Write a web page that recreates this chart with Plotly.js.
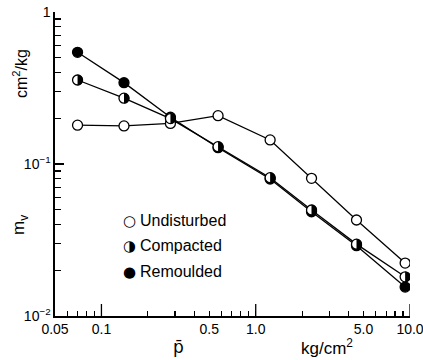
<!DOCTYPE html>
<html><head><meta charset="utf-8">
<script src="https://cdn.plot.ly/plotly-3.0.1.min.js"></script>
<style>html,body{margin:0;padding:0;background:#fff;}#chart{width:423px;height:360px;}</style>
</head><body><div id="chart"></div>
<script>
// data
const pressure    = [0.07, 0.14, 0.28, 0.57, 1.24, 2.3, 4.5, 9.3];
const undisturbed = [0.180, 0.178, 0.185, 0.208, 0.144, 0.0805, 0.0428, 0.0223];
const compacted   = [0.357, 0.271, 0.199, 0.130, 0.0813, 0.0498, 0.0297, 0.0181];
const remoulded   = [0.543, 0.343, 0.203, 0.128, 0.0797, 0.0485, 0.0290, 0.0155];
const seriesNames = ['Undisturbed', 'Compacted', 'Remoulded'];
const legendGlyphs = ['\u25CB', '\u25D1', '\u25CF'];

const xTickVals  = [0.05, 0.1, 0.5, 1, 5, 10];
const xTickText  = ['0.05', '0.1', '0.5', '1.0', '5.0', '10.0'];
const xMinorVals = [0.06, 0.07, 0.08, 0.09, 0.2, 0.3, 0.4, 0.6, 0.7, 0.8, 0.9, 2, 3, 4, 6, 7, 8, 9];
const xLongVals  = [0.1, 1, 10];
const yTickVals  = [0.01, 0.1, 1];
const yTickText  = ['10<sup>\u22122</sup>', '10<sup>\u22121</sup>', '1'];
const yMinorVals = [0.02, 0.03, 0.04, 0.05, 0.06, 0.07, 0.08, 0.09, 0.2, 0.3, 0.4, 0.5, 0.6, 0.7, 0.8, 0.9];

const FONT = 'Liberation Sans, Arial, sans-serif';
const lineStyle = {color: '#000', width: 1.3};

const traces = [
  {x: pressure, y: undisturbed, name: seriesNames[0], mode: 'lines+markers', line: lineStyle,
   marker: {symbol: 'circle', size: 10, color: '#fff', line: {color: '#000', width: 1.3}}},
  {x: pressure, y: remoulded, name: seriesNames[2], mode: 'lines+markers', line: lineStyle,
   marker: {symbol: 'circle', size: 10, color: '#000', line: {color: '#000', width: 1.3}}},
  {x: pressure, y: compacted, name: seriesNames[1], mode: 'lines+markers', line: lineStyle,
   marker: {symbol: 'circle', size: 10, color: '#fff', line: {color: '#000', width: 1.3}}}
];

// right half of each compacted marker filled black
function halfPath(r) {
  const pts = [];
  for (let k = 0; k <= 16; k++) {
    const t = Math.PI * k / 16;
    pts.push((r * Math.sin(t)).toFixed(2) + ',' + (r * Math.cos(t)).toFixed(2));
  }
  return 'M' + pts.join(' L') + ' Z';
}
const shapes = pressure.map((p, i) => ({
  type: 'path', xref: 'x', yref: 'y', xsizemode: 'pixel', ysizemode: 'pixel',
  xanchor: p, yanchor: compacted[i], path: halfPath(5.3),
  fillcolor: '#000', line: {width: 0}, layer: 'above'
}));
// longer ticks at the decades of the x axis
xLongVals.forEach(v => shapes.push({
  type: 'line', xref: 'x', yref: 'paper', ysizemode: 'pixel', yanchor: 0,
  x0: v, x1: v, y0: 0, y1: 12, line: {color: '#000', width: 1.3}, layer: 'above'
}));

const L = 55, R = 13, T = 12, B = 44, W = 423, H = 360;
const pw = W - L - R, ph = H - T - B;
const px = v => (v - L) / pw;
const py = v => (H - B - v) / ph;

const legendRowsY = [220, 245, 271];
const annotations = [];
seriesNames.forEach((n, i) => {
  annotations.push({xref: 'paper', yref: 'paper', x: px(129), y: py(legendRowsY[i] + 1), text: legendGlyphs[i],
    showarrow: false, xanchor: 'center', yanchor: 'middle', font: {family: 'DejaVu Sans', size: 15, color: '#000'}});
  annotations.push({xref: 'paper', yref: 'paper', x: px(138), y: py(legendRowsY[i]), text: n,
    showarrow: false, xanchor: 'left', yanchor: 'middle', font: {family: FONT, size: 16, color: '#000'}});
});
annotations.push({xref: 'paper', yref: 'paper', x: px(20), y: py(74), text: 'cm<sup>2</sup>/kg', textangle: -90,
  showarrow: false, xanchor: 'center', yanchor: 'middle', font: {family: FONT, size: 16, color: '#000'}});
annotations.push({xref: 'paper', yref: 'paper', x: px(20), y: py(225), text: 'm<sub>v</sub>', textangle: -90,
  showarrow: false, xanchor: 'center', yanchor: 'middle', font: {family: FONT, size: 17, color: '#000'}});
annotations.push({xref: 'paper', yref: 'paper', x: px(178), y: py(347), text: 'p\u0304',
  showarrow: false, xanchor: 'center', yanchor: 'middle', font: {family: 'DejaVu Sans', size: 17, color: '#000'}});
annotations.push({xref: 'paper', yref: 'paper', x: px(327), y: py(347), text: 'kg/cm<sup>2</sup>',
  showarrow: false, xanchor: 'center', yanchor: 'middle', font: {family: FONT, size: 17, color: '#000'}});

const layout = {
  width: W, height: H, margin: {l: L, r: R, t: T, b: B},
  paper_bgcolor: '#fff', plot_bgcolor: '#fff', showlegend: false,
  font: {family: FONT, color: '#000'},
  xaxis: {type: 'log', range: [Math.log10(0.05), 1], showgrid: false, zeroline: false,
    showline: true, linecolor: '#000', linewidth: 1.6,
    ticks: 'inside', ticklen: 5, tickwidth: 1.2, tickcolor: '#000',
    tickmode: 'array', tickvals: xTickVals, ticktext: xTickText, ticklabeloverflow: 'allow',
    tickfont: {family: FONT, size: 14, color: '#000'},
    minor: {tickmode: 'array', tickvals: xMinorVals, ticks: 'inside', ticklen: 5, tickwidth: 1.2, tickcolor: '#000', showgrid: false}},
  yaxis: {type: 'log', range: [-2, 0], showgrid: false, zeroline: false,
    showline: true, linecolor: '#000', linewidth: 1.6,
    ticks: 'inside', ticklen: 9, tickwidth: 1.2, tickcolor: '#000',
    tickmode: 'array', tickvals: yTickVals, ticktext: yTickText, ticklabeloverflow: 'allow',
    tickfont: {family: FONT, size: 14, color: '#000'},
    minor: {tickmode: 'array', tickvals: yMinorVals, ticks: 'inside', ticklen: 6, tickwidth: 1.2, tickcolor: '#000', showgrid: false}},
  shapes: shapes,
  annotations: annotations
};

Plotly.newPlot('chart', traces, layout, {staticPlot: true, displayModeBar: false});
</script>
</body></html>
